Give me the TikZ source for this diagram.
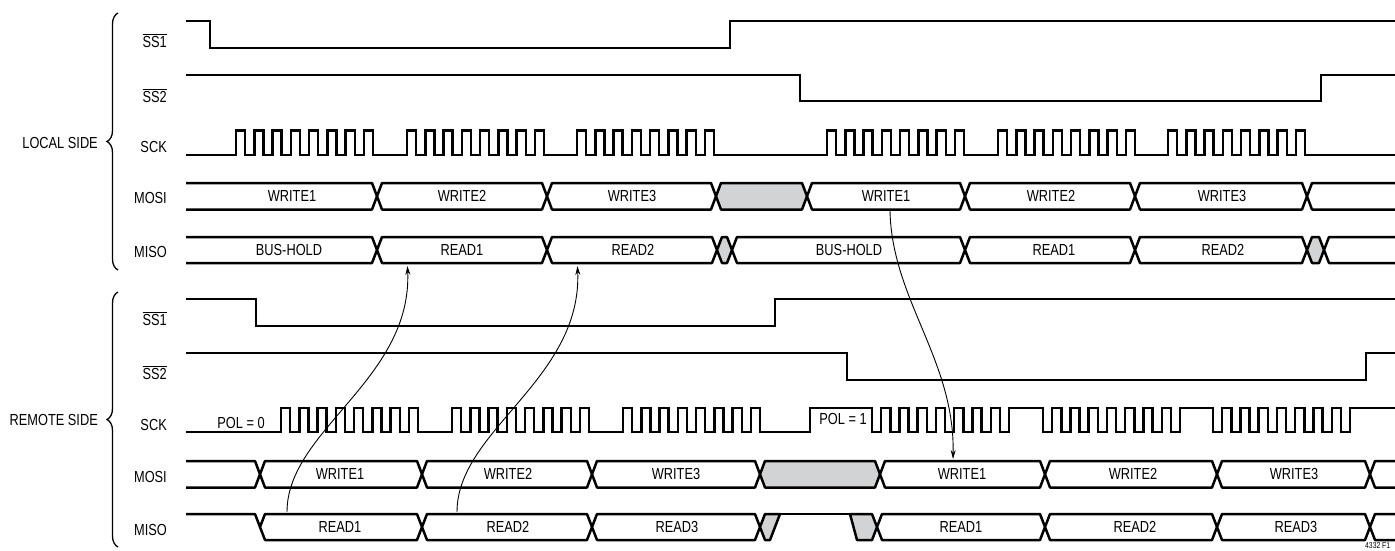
\documentclass[tikz,border=0pt]{standalone}
\usepackage{fontspec}
\setmainfont{Liberation Sans}[FakeStretch=0.8]
\usetikzlibrary{arrows.meta,decorations.pathreplacing}
\definecolor{busgray}{RGB}{210,211,213}
\newcommand{\ovl}[1]{\ensuremath{\overline{\mbox{#1}}}}
\newcommand{\bushex}[3][]{\draw[bus,#1] (#2,\bM) -- ({#2+5},\bT) -- ({#3-5},\bT) -- (#3,\bM) -- ({#3-5},\bB) -- ({#2+5},\bB) -- cycle;}
\begin{document}
\begin{tikzpicture}[x=1pt,y=-1pt,
  sig/.style={line width=2.5pt,line join=miter,line cap=butt},
  bus/.style={line width=2.5pt,line join=round,line cap=butt},
  lbl/.style={font=\fontsize{16}{18}\selectfont,inner sep=0pt},
  tiny/.style={font=\fontsize{8.5}{10}\selectfont,inner sep=0pt},
  arr/.style={line width=0.9pt,-{Stealth[length=9pt,width=5pt]}},
  brc/.style={line width=1.3pt,decorate,decoration={brace,amplitude=11pt}}]
\useasboundingbox (0,0) rectangle (1395,550);
\def\p{18.27}\def\h{9.13}

% ---------------- braces and side labels
\draw[brc] (118,270) -- (118,13);
\draw[brc] (118,547) -- (118,292);
\node[lbl,anchor=east] (local) at (98,143) {LOCAL SIDE};
\node[lbl,anchor=east] (remote) at (98,420) {REMOTE SIDE};

% ---------------- signal names
\node[lbl,anchor=base east] (lss1) at (167,47) {\ovl{SS1}};
\node[lbl,anchor=base east] (lss2) at (167,102) {\ovl{SS2}};
\node[lbl,anchor=base east] (lsck) at (167,152) {SCK};
\node[lbl,anchor=base east] (lmosi) at (167,203) {MOSI};
\node[lbl,anchor=base east] (lmiso) at (167,257) {MISO};
\node[lbl,anchor=base east] (rss1) at (167,325) {\ovl{SS1}};
\node[lbl,anchor=base east] (rss2) at (167,379) {\ovl{SS2}};
\node[lbl,anchor=base east] (rsck) at (167,430) {SCK};
\node[lbl,anchor=base east] (rmosi) at (167,482) {MOSI};
\node[lbl,anchor=base east] (rmiso) at (167,535) {MISO};

% ---------------- local side
\draw[sig] (186,21) -- (210,21) -- (210,48) -- (730,48) -- (730,21) -- (1395,21);
\draw[sig] (186,75) -- (800,75) -- (800,101) -- (1321,101) -- (1321,75) -- (1395,75);
\draw[sig] (186,155) \foreach \b in {236,407,577,827,998,1168}{ \foreach \k in {0,...,7}{ -- ({\b+\k*\p},155) -- ({\b+\k*\p},130.5) -- ({\b+\k*\p+\h},130.5) -- ({\b+\k*\p+\h},155) } } -- (1395,155);

% local MOSI
\def\bT{183}\def\bB{209.5}\def\bM{196.25}
\draw[bus] (186,\bT) -- (372,\bT) -- (377,\bM) -- (372,\bB) -- (186,\bB);
\bushex{377}{547}
\bushex{547}{716}
\bushex[fill=busgray]{716}{807}
\bushex{807}{965}
\bushex{965}{1135}
\bushex{1135}{1307}
\draw[bus] (1395,\bT) -- (1312,\bT) -- (1307,\bM) -- (1312,\bB) -- (1395,\bB);
\node[lbl] (lw1) at (292,\bM) {WRITE1};
\node[lbl] (lw2) at (462,\bM) {WRITE2};
\node[lbl] (lw3) at (632,\bM) {WRITE3};
\node[lbl] (lw1b) at (886,\bM) {WRITE1};
\node[lbl] (lw2b) at (1051,\bM) {WRITE2};
\node[lbl] (lw3b) at (1222,\bM) {WRITE3};

% local MISO
\def\bT{237}\def\bB{263}\def\bM{250}
\draw[bus] (186,\bT) -- (372,\bT) -- (377,\bM) -- (372,\bB) -- (186,\bB);
\bushex{377}{547}
\bushex{547}{717}
\bushex[fill=busgray]{717}{732}
\bushex{732}{965}
\bushex{965}{1135}
\bushex{1135}{1307}
\bushex[fill=busgray]{1307}{1324}
\draw[bus] (1395,\bT) -- (1329,\bT) -- (1324,\bM) -- (1329,\bB) -- (1395,\bB);
\node[lbl] (lbh) at (289,\bM) {BUS-HOLD};
\node[lbl] (lr1) at (462,\bM) {READ1};
\node[lbl] (lr2) at (633,\bM) {READ2};
\node[lbl] (lbh2) at (849,\bM) {BUS-HOLD};
\node[lbl] (lr1b) at (1054,\bM) {READ1};
\node[lbl] (lr2b) at (1223,\bM) {READ2};

% ---------------- remote side
\draw[sig] (186,299) -- (256,299) -- (256,326) -- (775,326) -- (775,299) -- (1395,299);
\draw[sig] (186,353) -- (847,353) -- (847,380) -- (1366,380) -- (1366,353) -- (1395,353);
\draw[sig] (186,432) \foreach \b in {281,452,623}{ \foreach \k in {0,...,7}{ -- ({\b+\k*\p},432) -- ({\b+\k*\p},408) -- ({\b+\k*\p+\h},408) -- ({\b+\k*\p+\h},432) } } -- (810,432) -- (810,408) \foreach \b in {872,1043,1213}{ \foreach \k in {0,...,7}{ -- ({\b+\k*\p},408) -- ({\b+\k*\p},432) -- ({\b+\k*\p+\h},432) -- ({\b+\k*\p+\h},408) } } -- (1395,408);
\node[lbl] (pol0) at (241,423) {POL = 0};
\node[lbl] (pol1) at (843,419) {POL = 1};

% remote MOSI
\def\bT{461}\def\bB{487.5}\def\bM{474.25}
\draw[bus] (186,\bT) -- (255,\bT) -- (260,\bM) -- (255,\bB) -- (186,\bB);
\bushex{260}{422}
\bushex{422}{592}
\bushex{592}{760}
\bushex[fill=busgray]{760}{880}
\bushex{880}{1045}
\bushex{1045}{1217}
\bushex{1217}{1370}
\draw[bus] (1395,\bT) -- (1375,\bT) -- (1370,\bM) -- (1375,\bB) -- (1395,\bB);
\node[lbl] (rw1) at (340,\bM) {WRITE1};
\node[lbl] (rw2) at (508,\bM) {WRITE2};
\node[lbl] (rw3) at (676,\bM) {WRITE3};
\node[lbl] (rw1b) at (962,\bM) {WRITE1};
\node[lbl] (rw2b) at (1133,\bM) {WRITE2};
\node[lbl] (rw3b) at (1294,\bM) {WRITE3};

% remote MISO
\def\bT{514}\def\bB{540}\def\bM{527}
\draw[bus] (186,\bT) -- (255,\bT) -- (260,\bM);
\bushex{260}{422}
\bushex{422}{592}
\bushex{592}{760}
\draw[bus,fill=busgray] (760,\bM) -- (765,\bT) -- (780,\bT) -- (770,\bB) -- (765,\bB) -- cycle;
\draw[bus] (780,\bT) -- (850,\bT);
\draw[bus,fill=busgray] (850,\bT) -- (872,\bT) -- (877,\bM) -- (872,\bB) -- (857,\bB) -- cycle;
\bushex{877}{1045}
\bushex{1045}{1217}
\bushex{1217}{1370}
\draw[bus] (1395,\bT) -- (1375,\bT) -- (1370,\bM) -- (1375,\bB) -- (1395,\bB);
\node[lbl] (rr1) at (340,\bM) {READ1};
\node[lbl] (rr2) at (508,\bM) {READ2};
\node[lbl] (rr3) at (677,\bM) {READ3};
\node[lbl] (rr1b) at (961,\bM) {READ1};
\node[lbl] (rr2b) at (1135,\bM) {READ2};
\node[lbl] (rr3b) at (1296,\bM) {READ3};

% ---------------- arrows
\coordinate (a1s) at (287,512);
\coordinate (a1e) at (407.5,266);
\coordinate (a2s) at (457,512);
\coordinate (a2e) at (577.5,266);
\coordinate (a3s) at (890,211);
\coordinate (a3e) at (953,459);
\draw[arr] (a1s) .. controls (287,430) and (412,380) .. (a1e);
\draw[arr] (a2s) .. controls (457,430) and (582,380) .. (a2e);
\draw[arr] (a3s) .. controls (892,300) and (955,360) .. (a3e);

\node[tiny,anchor=base west] (fig) at (1365,548) {4332 F1};
\end{tikzpicture}
\end{document}
